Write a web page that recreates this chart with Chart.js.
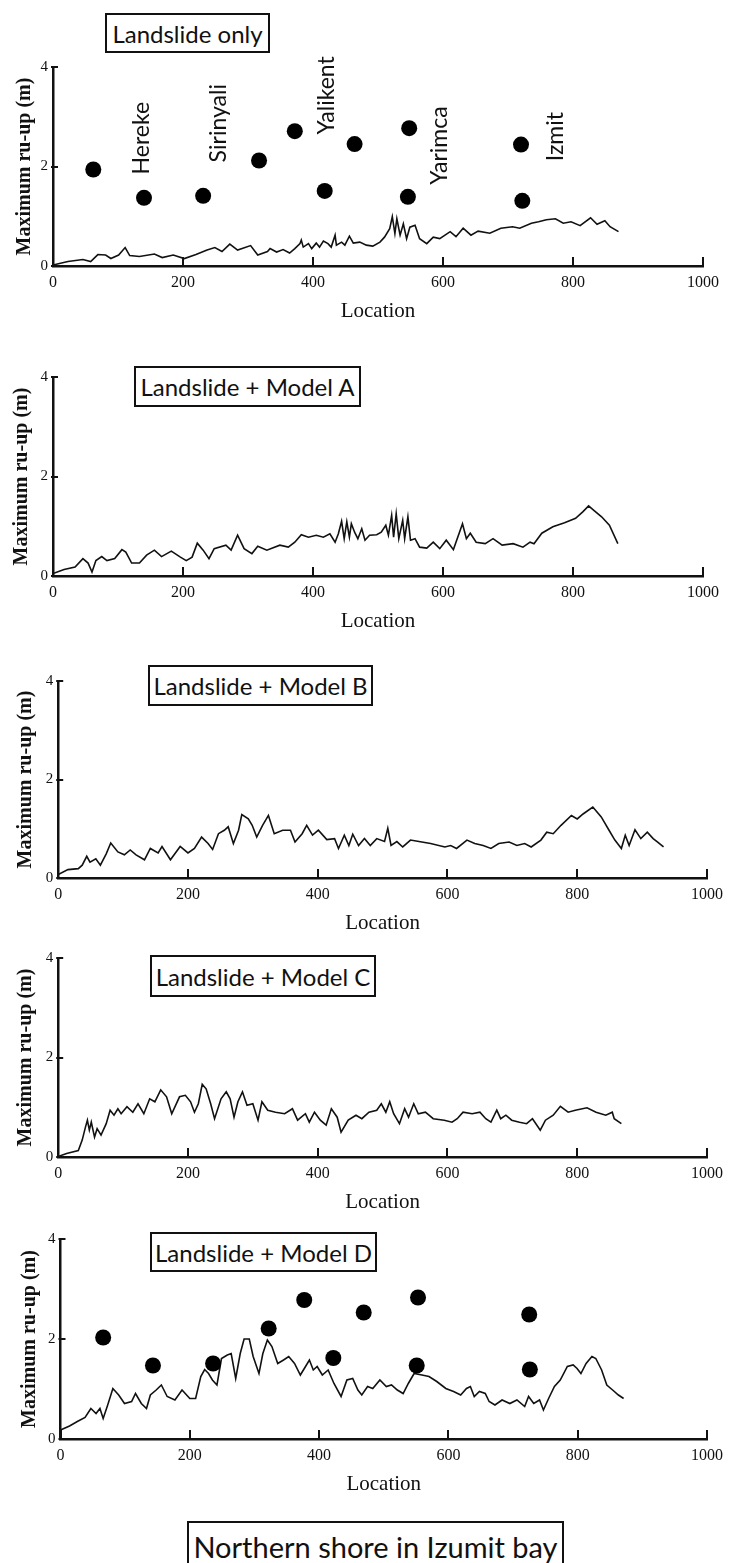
<!DOCTYPE html>
<html>
<head>
<meta charset="utf-8">
<script src="https://cdn.jsdelivr.net/npm/chart.js@4.4.1/dist/chart.umd.min.js"></script>
<style>
  html, body { margin:0; padding:0; background:#fff; }
  #wrap { position:relative; width:730px; height:1563px; overflow:hidden; background:#fff; }
  canvas { position:absolute; left:0; }
  .box { position:absolute; box-sizing:border-box; border:2px solid #111; font-family:Lato, "Open Sans", sans-serif; color:#111; display:flex; align-items:center; justify-content:center; white-space:nowrap; }
</style>
</head>
<body>
<div id="wrap">
  <div class="box" style="left:105px;top:13px;width:165px;height:40px;font-size:24px;">Landslide only</div>
  <div class="box" style="left:134px;top:366px;width:227px;height:41px;font-size:24px;">Landslide + Model A</div>
  <div class="box" style="left:148px;top:665px;width:225px;height:41px;font-size:24px;">Landslide + Model B</div>
  <div class="box" style="left:150px;top:955px;width:226px;height:42px;font-size:24px;">Landslide + Model C</div>
  <div class="box" style="left:150px;top:1232px;width:227px;height:40px;font-size:24px;">Landslide + Model D</div>
  <div class="box" style="left:187px;top:1521px;width:377px;height:50px;font-size:29px;">Northern shore in Izumit bay</div>
</div>
<script>
// ---------- DATA ----------
const xTicks = [0, 200, 400, 600, 800, 1000];
const yTicks = [0, 2, 4];
const xTitle = 'Location';
const yTitle = 'Maximum ru-up (m)';
const panelTitles = ['Landslide only', 'Landslide + Model A', 'Landslide + Model B', 'Landslide + Model C', 'Landslide + Model D'];

const siteNames = ['Hereke', 'Sirinyali', 'Yalikent', 'Yarimca', 'Izmit'];
const siteLocations = [137, 255, 421, 595, 773];
const siteLabelHeights = [2.57, 2.87, 3.43, 2.42, 2.60];

// observed run-up (dots), as read on the top and bottom panels
const observedTop = [[62,1.94],[140,1.37],[231,1.41],[317,2.12],[372,2.71],[418,1.51],[464,2.45],[548,2.77],[546,1.39],[720,2.44],[722,1.31]];
const observedBottom = [[66,2.03],[143,1.47],[236,1.51],[322,2.21],[377,2.78],[422,1.62],[469,2.53],[553,2.83],[551,1.47],[725,2.49],[726,1.39]];

// computed run-up: [location, max run-up]
const runupOnly = [[0,0.02],[23,0.09],[46,0.13],[58,0.09],[69,0.23],[81,0.22],[89,0.15],[101,0.22],[111,0.37],[118,0.21],[133,0.19],[156,0.24],[168,0.17],[185,0.22],[202,0.15],[220,0.23],[237,0.32],[249,0.37],[260,0.29],[272,0.44],[284,0.32],[304,0.41],[315,0.22],[330,0.29],[334,0.35],[344,0.28],[354,0.33],[364,0.26],[372,0.35],[380,0.45],[382,0.52],[385,0.38],[393,0.45],[398,0.35],[405,0.46],[410,0.38],[416,0.50],[423,0.45],[428,0.38],[434,0.62],[436,0.42],[444,0.48],[449,0.42],[456,0.60],[462,0.46],[472,0.48],[482,0.42],[492,0.40],[503,0.48],[510,0.58],[518,0.75],[522,0.99],[526,0.65],[529,0.95],[534,0.62],[539,0.85],[544,0.55],[549,0.78],[557,0.82],[564,0.55],[575,0.45],[585,0.58],[595,0.55],[611,0.69],[620,0.59],[631,0.76],[643,0.62],[654,0.70],[672,0.66],[689,0.76],[707,0.79],[718,0.76],[736,0.86],[747,0.89],[759,0.93],[773,0.95],[785,0.86],[797,0.89],[811,0.81],[827,0.97],[837,0.84],[849,0.91],[857,0.79],[870,0.69]];

const runupModelA = [[0,0.05],[17,0.13],[34,0.18],[46,0.35],[54,0.26],[60,0.08],[66,0.31],[75,0.39],[83,0.31],[95,0.35],[106,0.53],[112,0.48],[121,0.26],[133,0.26],[144,0.42],[156,0.52],[167,0.39],[182,0.50],[196,0.38],[205,0.31],[214,0.38],[222,0.66],[231,0.52],[240,0.35],[248,0.55],[266,0.62],[274,0.52],[284,0.82],[294,0.55],[306,0.45],[315,0.60],[329,0.52],[349,0.62],[362,0.58],[372,0.68],[382,0.83],[393,0.78],[405,0.82],[416,0.78],[426,0.85],[434,0.68],[439,0.85],[444,1.10],[448,0.75],[452,1.09],[456,0.78],[459,1.05],[464,0.88],[469,0.75],[475,0.95],[480,0.72],[487,0.82],[498,0.83],[505,0.88],[512,1.02],[516,0.82],[521,1.22],[524,0.78],[528,1.25],[532,0.75],[538,1.12],[541,0.75],[546,1.19],[550,0.72],[557,0.75],[564,0.58],[575,0.56],[585,0.68],[595,0.55],[605,0.72],[616,0.53],[630,1.05],[636,0.75],[642,0.86],[651,0.68],[665,0.65],[677,0.75],[691,0.62],[708,0.65],[723,0.58],[734,0.68],[740,0.65],[752,0.86],[769,0.99],[787,1.07],[804,1.16],[815,1.29],[824,1.41],[833,1.31],[844,1.19],[856,1.02],[869,0.65]];

const runupModelB = [[0,0.07],[15,0.17],[31,0.19],[37,0.26],[44,0.44],[49,0.32],[58,0.39],[65,0.26],[74,0.49],[81,0.71],[92,0.53],[102,0.47],[111,0.57],[120,0.47],[133,0.37],[142,0.60],[154,0.51],[160,0.64],[173,0.37],[188,0.64],[200,0.51],[210,0.60],[221,0.83],[231,0.70],[238,0.58],[247,0.90],[256,0.97],[262,1.04],[270,0.70],[278,0.97],[283,1.29],[293,1.20],[299,1.07],[306,0.83],[315,1.07],[324,1.27],[333,0.90],[346,0.97],[358,0.97],[365,0.73],[376,0.90],[383,1.07],[392,0.87],[401,0.97],[414,0.78],[426,0.80],[432,0.60],[441,0.87],[448,0.66],[454,0.89],[463,0.66],[472,0.80],[481,0.66],[491,0.80],[503,0.74],[508,1.01],[513,0.66],[522,0.74],[531,0.63],[543,0.77],[556,0.74],[574,0.70],[596,0.63],[605,0.66],[614,0.60],[630,0.77],[642,0.70],[655,0.66],[667,0.60],[679,0.70],[695,0.73],[707,0.66],[719,0.70],[729,0.63],[744,0.77],[753,0.93],[763,0.90],[775,1.07],[791,1.27],[800,1.20],[809,1.30],[824,1.44],[837,1.24],[849,0.97],[858,0.77],[868,0.60],[874,0.87],[880,0.66],[889,0.98],[898,0.80],[908,0.93],[917,0.80],[923,0.74],[933,0.63]];

const runupModelC = [[0,0.01],[13,0.07],[31,0.13],[37,0.34],[42,0.60],[45,0.74],[48,0.54],[51,0.70],[56,0.40],[60,0.57],[66,0.44],[74,0.67],[80,0.94],[86,0.84],[92,0.97],[97,0.87],[106,1.01],[115,0.90],[123,1.07],[132,0.87],[141,1.17],[149,1.11],[158,1.35],[167,1.21],[175,0.87],[187,1.21],[196,1.24],[204,1.11],[210,0.90],[216,1.07],[222,1.46],[228,1.37],[235,1.07],[241,0.77],[251,1.17],[259,1.31],[265,1.17],[271,0.80],[277,1.11],[284,1.31],[291,1.04],[300,1.07],[308,0.74],[314,1.11],[323,0.94],[335,0.90],[349,0.87],[361,0.97],[369,0.74],[381,0.87],[387,0.70],[395,0.90],[404,0.74],[413,0.64],[421,0.97],[430,0.80],[436,0.50],[447,0.74],[459,0.84],[468,0.77],[479,0.90],[491,0.94],[498,1.07],[505,0.90],[511,1.11],[517,0.87],[526,0.67],[534,0.97],[540,0.80],[548,1.07],[555,0.87],[566,0.90],[578,0.77],[595,0.74],[607,0.70],[615,0.77],[624,0.90],[638,0.87],[650,0.90],[659,0.77],[667,0.70],[676,0.94],[682,0.77],[690,0.84],[699,0.74],[711,0.70],[722,0.67],[731,0.77],[743,0.54],[751,0.74],[763,0.84],[774,1.02],[786,0.90],[797,0.94],[815,0.99],[829,0.90],[844,0.84],[854,0.90],[857,0.77],[868,0.67]];

const runupModelD = [[0,0.18],[14,0.26],[26,0.35],[38,0.43],[47,0.61],[55,0.51],[61,0.61],[66,0.41],[73,0.68],[81,1.01],[90,0.88],[99,0.71],[110,0.75],[116,0.91],[125,0.71],[133,0.61],[139,0.88],[148,0.98],[156,1.08],[165,0.85],[177,0.78],[188,0.98],[200,0.81],[209,0.81],[217,1.25],[223,1.39],[229,1.31],[235,1.18],[242,1.08],[249,1.61],[258,1.68],[264,1.71],[271,1.21],[278,1.71],[284,2.00],[292,2.00],[298,1.65],[307,1.31],[313,1.71],[320,1.98],[327,1.85],[336,1.51],[345,1.58],[353,1.65],[362,1.51],[371,1.28],[379,1.45],[385,1.58],[391,1.38],[397,1.45],[405,1.28],[414,1.38],[423,1.11],[434,0.85],[443,1.18],[452,1.21],[460,0.98],[466,0.88],[475,1.05],[483,1.01],[494,1.18],[504,1.05],[512,1.08],[521,0.98],[530,0.91],[538,1.11],[547,1.31],[559,1.28],[570,1.25],[582,1.15],[596,1.01],[608,0.95],[619,0.88],[628,1.01],[634,1.05],[640,0.85],[648,0.95],[657,0.91],[663,0.75],[672,0.68],[683,0.78],[695,0.71],[706,0.78],[718,0.65],[724,0.85],[732,0.71],[741,0.78],[747,0.58],[755,0.81],[764,1.05],[773,1.18],[784,1.45],[793,1.48],[799,1.41],[805,1.31],[813,1.51],[822,1.65],[828,1.61],[837,1.38],[845,1.08],[854,0.98],[863,0.88],[871,0.81]];

// ---------- LAYOUT ----------
const panels = [
  { curve: runupOnly,   dots: observedTop,    sites: true,  top: 66.7,  bottom: 265.7,  left: 53,   right: 703,   yTitlePad: 13 },
  { curve: runupModelA, dots: null,           sites: false, top: 376.7, bottom: 575.7,  left: 53,   right: 703,   yTitlePad: 10 },
  { curve: runupModelB, dots: null,           sites: false, top: 680.7, bottom: 877.7,  left: 58.2, right: 708.6, yTitlePad: 14 },
  { curve: runupModelC, dots: null,           sites: false, top: 957.7, bottom: 1156.7, left: 58.2, right: 708.6, yTitlePad: 14 },
  { curve: runupModelD, dots: observedBottom, sites: false, top: 1239,  bottom: 1439,   left: 60.5, right: 711,   yTitlePad: 18 }
];

const INK = '#111';
const TOP_PAD = 30, X_AXIS_H = 62;
const SERIF = '"Liberation Serif", "Times New Roman", serif';

// inward tick marks and site names, drawn from the scales after the datasets
const decorations = {
  id: 'decorations',
  afterDatasetsDraw(chart, args, opts) {
    const ctx = chart.ctx;
    const a = chart.chartArea;
    const xs = chart.scales.x, ys = chart.scales.y;
    ctx.save();
    ctx.strokeStyle = INK;
    ctx.lineWidth = 2;
    ctx.beginPath();
    for (const v of xTicks) {
      const px = Math.round(xs.getPixelForValue(v));
      ctx.moveTo(px, a.bottom + 1);
      ctx.lineTo(px, a.bottom - 9);
    }
    for (const v of yTicks) {
      const py = Math.round(ys.getPixelForValue(v));
      ctx.moveTo(a.left - 2, py);
      ctx.lineTo(a.left + 5, py);
    }
    ctx.stroke();
    ctx.restore();

    if (!opts.sites) return;
    ctx.save();
    ctx.fillStyle = INK;
    ctx.font = '23px Lato, "Open Sans", sans-serif';
    ctx.textAlign = 'center';
    ctx.textBaseline = 'middle';
    siteNames.forEach((name, i) => {
      const px = xs.getPixelForValue(siteLocations[i]);
      const py = ys.getPixelForValue(siteLabelHeights[i]);
      ctx.save();
      ctx.translate(px, py);
      ctx.rotate(-Math.PI / 2);
      ctx.fillText(name, 0, 0);
      ctx.restore();
    });
    ctx.restore();
  }
};

const wrap = document.getElementById('wrap');
panels.forEach((p, idx) => {
  const canvas = document.createElement('canvas');
  const h = Math.round((p.bottom - p.top) + TOP_PAD + X_AXIS_H);
  canvas.width = 730; canvas.height = h;
  canvas.style.width = '730px'; canvas.style.height = h + 'px';
  canvas.style.top = (p.top - TOP_PAD) + 'px';
  wrap.appendChild(canvas);

  const datasets = [];
  if (p.dots) {
    datasets.push({
      data: p.dots.map(d => ({ x: d[0], y: d[1] })),
      pointRadius: 8, pointBackgroundColor: '#000', pointBorderWidth: 0, showLine: false
    });
  }
  datasets.push({
    data: p.curve.map(d => ({ x: d[0], y: d[1] })),
    showLine: true, pointRadius: 0, borderColor: INK, borderWidth: 1.6, tension: 0, fill: false
  });

  new Chart(canvas, {
    type: 'scatter',
    data: { datasets },
    options: {
      responsive: false, animation: false, devicePixelRatio: 1,
      layout: { padding: { top: TOP_PAD, right: 730 - p.right, left: 0, bottom: 0 } },
      plugins: { legend: { display: false }, tooltip: { enabled: false }, decorations: { sites: p.sites } },
      scales: {
        x: {
          type: 'linear', min: 0, max: 1000,
          afterBuildTicks: s => { s.ticks = xTicks.map(v => ({ value: v })); },
          afterFit: s => { s.height = X_AXIS_H; },
          grid: { display: false, drawTicks: false },
          border: { display: true, color: INK, width: 2.5 },
          ticks: { color: INK, padding: 7, maxRotation: 0, autoSkip: false, callback: v => String(v), font: { family: SERIF, size: 16 } },
          title: { display: true, text: xTitle, color: INK, padding: { top: 0, bottom: 4 }, font: { family: SERIF, size: 21 } }
        },
        y: {
          type: 'linear', min: 0, max: 4,
          afterBuildTicks: s => { s.ticks = yTicks.map(v => ({ value: v })); },
          afterFit: s => { s.width = p.left; },
          grid: { display: false, drawTicks: false },
          border: { display: true, color: INK, width: 2.5 },
          ticks: { color: INK, padding: 5, autoSkip: false, callback: v => String(v), font: { family: SERIF, size: 15 } },
          title: { display: true, text: yTitle, color: INK, padding: { top: p.yTitlePad, bottom: 0 }, font: { family: SERIF, size: 20, weight: 'bold' } }
        }
      }
    },
    plugins: [decorations]
  });
});
</script>
</body>
</html>
